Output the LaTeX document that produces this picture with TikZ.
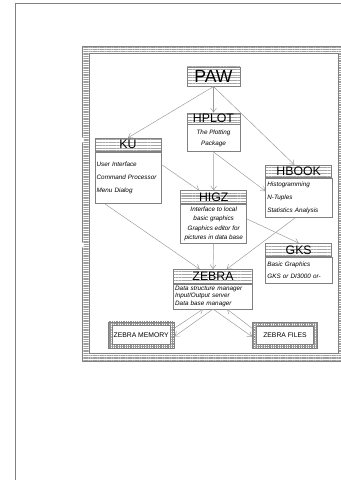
\documentclass[tikz,border=0pt]{standalone}
\usepackage{fontspec}
\setmainfont{Liberation Sans}
\usetikzlibrary{positioning,patterns.meta,arrows.meta}

\tikzset{
    head/.style={draw=gray, pattern={Lines[distance=2.4pt,line width=0.9pt]},
        pattern color=gray!70, inner sep=0pt, font=\fontsize{10.5}{11}\selectfont},
    body/.style={draw=gray, fill=white, inner sep=1.5pt,
        font=\fontsize{5.4}{10.8}\selectfont\itshape,
        execute at begin node={\hyphenpenalty=10000}},
    storeframe/.style={draw=gray, pattern={Hatch[distance=1.5pt,line width=0.55pt]},
        pattern color=gray!85, inner sep=0pt},
    storebox/.style={draw=gray, fill=white, inner sep=0pt,
        font=\fontsize{5.8}{6}\selectfont},
    link/.style={draw=gray!80, line width=0.4pt,
        -{Straight Barb[length=3.5pt,width=5pt]}}
}

\begin{document}
\begin{tikzpicture}[x=0.03cm,y=-0.03cm]
    \useasboundingbox (0,0) rectangle (341,480);
    \clip (0,0) rectangle (341,480);

    % page edge
    \draw[gray] (15,480) -- (15,3) -- (341,3);

    % frame
    \fill[pattern={Lines[distance=1.5pt,line width=0.6pt]}, pattern color=gray!75,
        even odd rule] (82.3,46) rectangle (350,361) (89,53) rectangle (338,353);
    \draw[gray] (82.3,46) rectangle (350,361);
    \draw[gray] (89,53) rectangle (338,353);
    \fill[white] (81,140) circle (3) (81,245) circle (3);

    % boxes
    \node[head, minimum width=1.59cm, minimum height=0.57cm,
        font=\fontsize{15}{15}\selectfont] (paw) at (213.5,76.5) {PAW};

    \node[head, minimum width=1.59cm, minimum height=0.345cm] (hplot) at (213.5,118.5) {HPLOT};
    \node[body, below=0pt of hplot, minimum width=1.59cm, minimum height=0.81cm,
        align=center, font=\fontsize{5.4}{8.8}\selectfont\itshape] (hplotbody)
        {The Plotting\\Package};

    \node[head, minimum width=1.98cm, minimum height=0.405cm] (ku) at (128,144.75) {KU};
    \node[body, below=0pt of ku, minimum width=1.98cm, minimum height=1.545cm,
        text width=1.88cm, align=left] (kubody)
        {User Interface\\Command Processor\\Menu Dialog};

    \node[head, minimum width=1.98cm, minimum height=0.375cm] (hbook) at (298.7,171.25) {HBOOK};
    \node[body, below=0pt of hbook, minimum width=1.98cm, minimum height=1.185cm,
        text width=1.88cm, align=left] (hbookbody)
        {Histogramming\\N-Tuples\\Statistics Analysis};

    \node[head, minimum width=1.98cm, minimum height=0.38cm] (higz) at (213.7,197) {HIGZ};
    \node[body, below=0pt of higz, minimum width=1.98cm, minimum height=1.19cm,
        align=center, font=\fontsize{5.4}{7.4}\selectfont\itshape] (higzbody)
        {Interface to local\\basic graphics\\[1.5pt]Graphics editor for\\pictures in data base};

    \node[head, minimum width=1.98cm, minimum height=0.4cm] (gks) at (298.7,250) {GKS};
    \node[body, below=0pt of gks, minimum width=1.98cm, minimum height=0.79cm,
        text width=1.88cm, align=left] (gksbody)
        {Basic Graphics\\GKS or DI3000 or-};

    \node[head, minimum width=2.37cm, minimum height=0.42cm] (zebra) at (213,276.4) {ZEBRA};
    \node[body, below=0pt of zebra, minimum width=2.37cm, minimum height=0.75cm,
        text width=2.27cm, align=left, font=\fontsize{5.4}{6.6}\selectfont\itshape] (zebrabody)
        {Data structure manager\\Input/Output server\\Data base manager};

    \node[storeframe, minimum width=1.98cm, minimum height=0.78cm] (zmemframe) at (141.2,334.8) {};
    \node[storebox, minimum width=1.74cm, minimum height=0.55cm] (zmem) at (zmemframe) {ZEBRA MEMORY};

    \node[storeframe, minimum width=1.96cm, minimum height=0.78cm] (zfilesframe) at (285,335) {};
    \node[storebox, minimum width=1.72cm, minimum height=0.55cm] (zfiles) at (zfilesframe) {ZEBRA FILES};

    % connectors
    \draw[link] (paw.south) -- (ku.north);
    \draw[link] (paw.south) -- (hplot.north);
    \draw[link] (paw.south) -- ([xshift=-0.13cm]hbook.north);
    \draw[link] (hplotbody.south) -- (higz.north);
    \draw[link] (hplotbody.south) -- ([yshift=-0.4cm]hbookbody.north west);
    \draw[link] ([yshift=-0.38cm]kubody.north east) -- ([xshift=0.56cm]higz.north west);
    \draw[link] ([xshift=0.3cm]kubody.south west) -- ([xshift=-0.4cm]zebra.north);
    \draw[link] (higzbody.south) -- (zebra.north);
    \draw[link] ([xshift=-0.1cm]hbookbody.south) -- ([xshift=0.41cm]zebra.north);
    \draw[link] ([yshift=0.14cm]higzbody.east) -- (gks.north);

    \draw[link] (zebrabody.south) -- ([yshift=-0.05cm]zmemframe.east);
    \draw[link] ([yshift=0.2cm]zmemframe.east) -- ([xshift=-0.3cm]zebrabody.south);
    \draw[link] (zebrabody.south) -- ([yshift=-0.05cm]zfilesframe.west);
    \draw[link] ([yshift=0.2cm]zfilesframe.west) -- ([xshift=0.42cm]zebrabody.south);
\end{tikzpicture}
\end{document}
